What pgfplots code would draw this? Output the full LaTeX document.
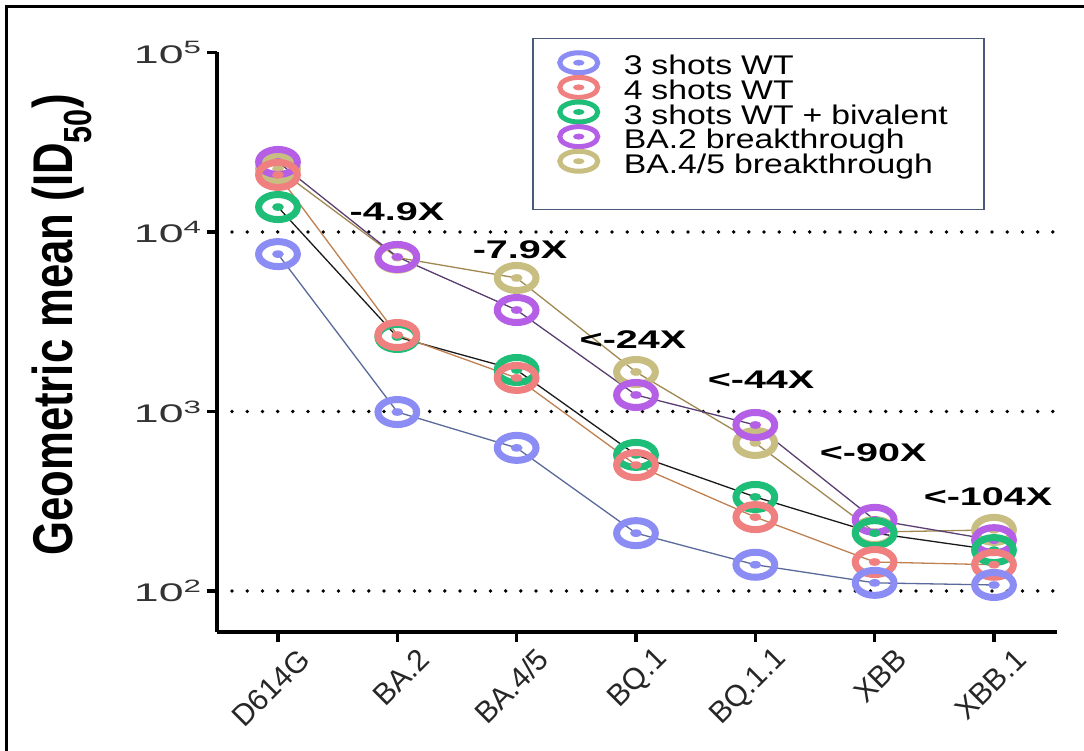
\documentclass[border=0pt]{standalone}
\usepackage{pgfplots}
\pgfplotsset{compat=1.18}
\usepackage{pgfplotstable}
\usepackage{fontspec}
\setmainfont{Liberation Sans}
\newfontfamily\legfont{Liberation Sans}[FakeStretch=1.25]
\newfontfamily\annfont{Liberation Sans}[FakeStretch=1.55]
\newfontfamily\tickfont{Liberation Sans}[FakeStretch=1.75]
\newfontfamily\ylabfont{Liberation Sans}[FakeStretch=0.78]

\definecolor{cblue}{HTML}{8C8CF5}
\definecolor{cred}{HTML}{F08080}
\definecolor{cgreen}{HTML}{1EBE78}
\definecolor{cpurple}{HTML}{B45FE6}
\definecolor{colive}{HTML}{C8BE82}
\definecolor{lblue}{HTML}{5A6A9A}
\definecolor{lred}{HTML}{C08050}
\definecolor{lgreen}{HTML}{1A1A1A}
\definecolor{lpurple}{HTML}{5A4070}
\definecolor{lolive}{HTML}{A08850}
\definecolor{legframe}{HTML}{4A5A7A}
\definecolor{ticktext}{HTML}{333333}

% ring with a dot, horizontally stretched (plot version)
\pgfdeclareplotmark{ringdot}{%
  \pgftransformxscale{1.55}%
  \pgfsetlinewidth{7pt}%
  \pgfpathcircle{\pgfpointorigin}{12.5pt}\pgfusepathqstroke
  \pgfpathcircle{\pgfpointorigin}{3.8pt}\pgfusepathqfill
}
% legend version
\pgfdeclareplotmark{ringdotleg}{%
  \pgftransformxscale{1.9}%
  \pgfsetlinewidth{5pt}%
  \pgfpathcircle{\pgfpointorigin}{10pt}\pgfusepathqstroke
  \pgfpathcircle{\pgfpointorigin}{3pt}\pgfusepathqfill
}

\pgfplotstableread{
x y
0 7530
1 993
2 627
3 210
4 140
5 111
6 108
}\tblue
\pgfplotstableread{
x y
0 20800
1 2667
2 1538
3 503
4 258
5 145
6 140
}\tred
\pgfplotstableread{
x y
0 13770
1 2600
2 1703
3 573
4 334
5 210
6 169
}\tgreen
\pgfplotstableread{
x y
0 24550
1 7260
2 3675
3 1236
4 841
5 249
6 192
}\tpurple
\pgfplotstableread{
x y
0 22500
1 7200
2 5545
3 1660
4 668
5 213
6 219
}\tolive

\newcommand\yt[1]{{\tickfont\fontsize{25.5}{25.5}\selectfont 10\textsuperscript{#1}}}
\newcommand\xl[1]{{\fontsize{30}{30}\selectfont #1}}

\pgfplotsset{
  ser/.style={line width=1.3pt, draw=l#1, mark=ringdot,
    mark options={solid, draw=c#1, fill=c#1}},
}

\begin{document}
\begin{tikzpicture}
\useasboundingbox (0,0) rectangle (1084pt,751pt);
\fill[white] (0,0) rectangle (1084pt,751pt);
\draw[line width=3pt] (6.5pt,0pt) -- (6.5pt,744.5pt) -- (1084pt,744.5pt);
\begin{axis}[
  at={(217pt,119pt)}, anchor=south west,
  scale only axis, width=840pt, height=579.5pt,
  ymode=log, xmin=-0.511, xmax=6.528, ymin=59.1, ymax=100000,
  axis x line*=bottom, axis y line*=left,
  axis line style={line width=3.5pt, -},
  tick align=outside, major tick length=10pt,
  tick style={line width=3.5pt, black},
  yminorticks=false, xminorticks=false,
  ytick={100,1000,10000,100000},
  yticklabels={\yt{2},\yt{3},\yt{4},\yt{5}},
  yticklabel style={text=ticktext, xshift=-2pt},
  xtick={0,1,2,3,4,5,6},
  xticklabels={\xl{D614G},\xl{BA.2},\xl{BA.4/5},\xl{BQ.1},\xl{BQ.1.1},\xl{XBB},\xl{XBB.1}},
  xticklabel style={xshift=29pt, yshift=-10pt, rotate=45, anchor=east, text=black!85},
  ylabel={\ylabfont\bfseries Geometric mean (ID\textsubscript{50})},
  every axis y label/.style={at={(axis description cs:-0.1845,0.53)}, rotate=90, anchor=center,
    font=\fontsize{56}{56}\selectfont},
  clip=false,
  legend style={
    at={(axis description cs:0.375,1.025)}, anchor=north west,
    draw=legframe, line width=1.5pt,
    inner xsep=24pt, inner ysep=12pt,
    font=\legfont\fontsize{27}{27}\selectfont,
    row sep=-5.25pt, column sep=0pt,
    nodes={inner sep=0pt, text height=18pt, text depth=5.75pt, text width=336pt, align=left},
  },
  legend cell align=left,
  legend image code/.code={%
    \path[draw=none, fill=none] (0pt,-5.75pt) rectangle (67pt,18pt);
    \begin{pgfinterruptboundingbox}
    \draw[#1] plot coordinates {(22pt,6pt)};
    \end{pgfinterruptboundingbox}
  },
]
% dotted gridlines
\draw[black, line width=3.8pt, line cap=round, dash pattern=on 0pt off 15.2pt]
    (axis cs:-0.385,100) -- (axis cs:6.5,100);
\draw[black, line width=3.8pt, line cap=round, dash pattern=on 0pt off 15.2pt]
    (axis cs:-0.385,1000) -- (axis cs:6.5,1000);
\draw[black, line width=3.8pt, line cap=round, dash pattern=on 0pt off 15.2pt]
    (axis cs:-0.385,10000) -- (axis cs:6.5,10000);
% series (z-order: olive, purple, green, red, blue)
\addplot[ser=olive, forget plot] table[x=x,y=y] {\tolive};
\addplot[ser=purple, forget plot] table[x=x,y=y] {\tpurple};
\addplot[ser=green, forget plot] table[x=x,y=y] {\tgreen};
\addplot[ser=red, forget plot] table[x=x,y=y] {\tred};
\addplot[ser=blue, forget plot] table[x=x,y=y] {\tblue};

\addlegendimage{only marks, mark=ringdotleg, color=cblue}\addlegendentry{3 shots WT}
\addlegendimage{only marks, mark=ringdotleg, color=cred}\addlegendentry{4 shots WT}
\addlegendimage{only marks, mark=ringdotleg, color=cgreen}\addlegendentry{3 shots WT + bivalent}
\addlegendimage{only marks, mark=ringdotleg, color=cpurple}\addlegendentry{BA.2 breakthrough}
\addlegendimage{only marks, mark=ringdotleg, color=colive}\addlegendentry{BA.4/5 breakthrough}
\addlegendimage{empty legend}\addlegendentry{}

% fold-change annotations
\begin{scope}[every node/.style={font=\annfont\bfseries\fontsize{25.5}{25.5}\selectfont, inner sep=0pt}]
\node at (axis cs:0.997,12910) {-4.9X};
\node at (axis cs:2.028,7940) {-7.9X};
\node at (axis cs:2.975,2500) {<-24X};
\node at (axis cs:4.048,1498) {<-44X};
\node at (axis cs:4.987,587) {<-90X};
\node at (axis cs:5.950,334) {<-104X};
\end{scope}
\end{axis}
\end{tikzpicture}
\end{document}
